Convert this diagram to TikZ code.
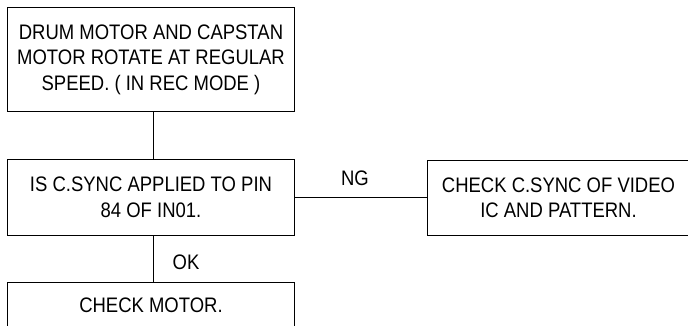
\documentclass[tikz,border=0pt]{standalone}
\usepackage{fontspec}
\setmainfont[FakeStretch=0.88]{Liberation Sans}
\begin{document}
\begin{tikzpicture}[x=1pt,y=-1pt,
  txt/.style={font=\fontsize{21}{25.5}\selectfont, inner sep=0pt},
  box/.style={txt, draw, line width=1pt, align=center, anchor=north west},
  conn/.style={line width=1pt}]
\path[use as bounding box, clip] (0,0) rectangle (688,326);
\node[box, minimum width=287, minimum height=104] (b1) at (7,7)
  {DRUM MOTOR AND CAPSTAN\\MOTOR ROTATE AT REGULAR\\SPEED. ( IN REC MODE )};
\node[box, minimum width=287, minimum height=76] (b2) at (7,159)
  {IS C.SYNC APPLIED TO PIN\\84 OF IN01.};
\node[box, minimum width=287, minimum height=46] (b3) at (7,282)
  {CHECK MOTOR.};
\node[box, minimum width=262, minimum height=75] (b4) at (427,160)
  {CHECK C.SYNC OF VIDEO\\IC AND PATTERN.};
\draw[conn] ([xshift=2.5]b1.south) -- ([xshift=2.5]b2.north);
\draw[conn] ([xshift=2.5]b2.south) -- ([xshift=2.5]b3.north);
\draw[conn] (b2.east) -- (b2.east -| b4.west);
\node[txt] (ng) at (355,178) {NG};
\node[txt] (ok) at (186,262) {OK};
\end{tikzpicture}
\end{document}
